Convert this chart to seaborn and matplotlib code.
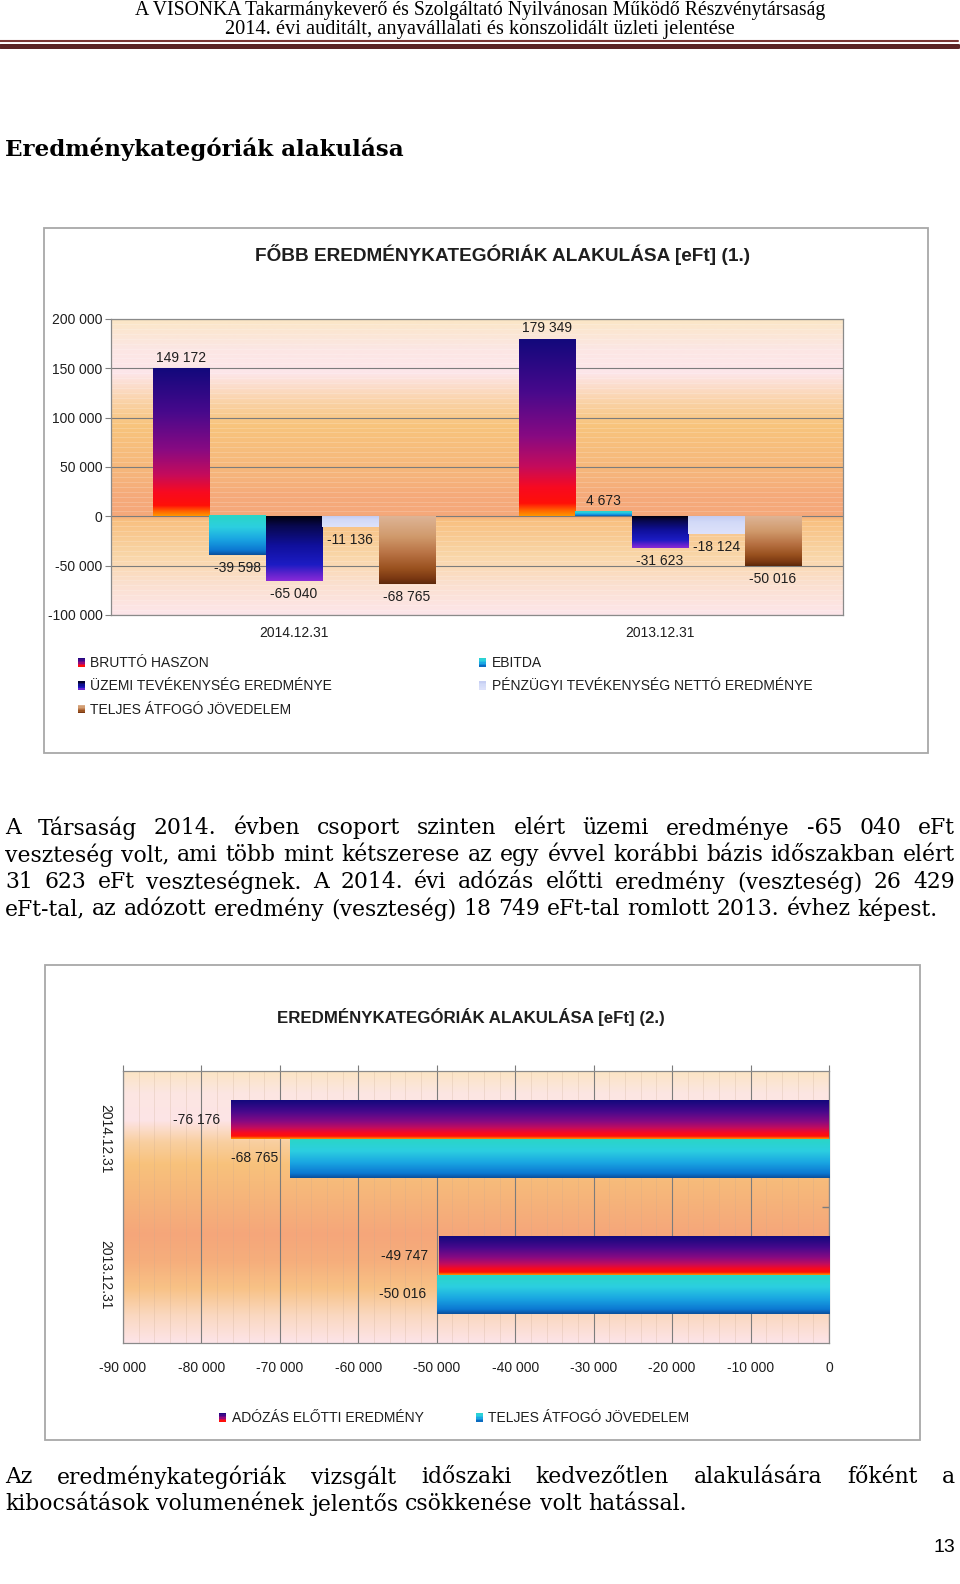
import numpy as np
import pandas as pd
import seaborn as sns
import matplotlib
matplotlib.use('Agg')
import matplotlib.pyplot as plt
from matplotlib.colors import LinearSegmentedColormap
from matplotlib.patches import Rectangle
from matplotlib.lines import Line2D
from matplotlib.legend_handler import HandlerBase
from matplotlib.ticker import MultipleLocator, FuncFormatter

# --- adatok ---
dates = ['2014.12.31', '2013.12.31']
cats1 = ['BRUTTÓ HASZON', 'EBITDA', 'ÜZEMI TEVÉKENYSÉG EREDMÉNYE',
         'PÉNZÜGYI TEVÉKENYSÉG NETTÓ EREDMÉNYE', 'TELJES ÁTFOGÓ JÖVEDELEM']
vals_2014 = [149172, -39598, -65040, -11136, -68765]
vals_2013 = [179349, 4673, -31623, -18124, -50016]

cats2 = ['ADÓZÁS ELŐTTI EREDMÉNY', 'TELJES ÁTFOGÓ JÖVEDELEM']
adozas_elotti = [-76176, -49747]
teljes_atfogo = [-68765, -50016]

yticks1 = [-100000, -50000, 0, 50000, 100000, 150000, 200000]
xticks2 = [-90000, -80000, -70000, -60000, -50000, -40000, -30000, -20000, -10000, 0]

header = ['A VISONKA Takarmánykeverő és Szolgáltató Nyilvánosan Működő Részvénytársaság',
          '2014. évi auditált, anyavállalati és konszolidált üzleti jelentése']
heading = 'Eredménykategóriák alakulása'
title1 = 'FŐBB EREDMÉNYKATEGÓRIÁK ALAKULÁSA [eFt] (1.)'
title2 = 'EREDMÉNYKATEGÓRIÁK ALAKULÁSA [eFt] (2.)'
para1 = ['A Társaság 2014. évben csoport szinten elért üzemi eredménye -65 040 eFt',
         'veszteség volt, ami több mint kétszerese az egy évvel korábbi bázis időszakban elért',
         '31 623 eFt veszteségnek. A 2014. évi adózás előtti eredmény (veszteség) 26 429',
         'eFt-tal, az adózott eredmény (veszteség) 18 749 eFt-tal romlott 2013. évhez képest.']
para2 = ['Az eredménykategóriák vizsgált időszaki kedvezőtlen alakulására főként a',
         'kibocsátások volumenének jelentős csökkenése volt hatással.']
page_no = '13'


def grad(stops):
    return LinearSegmentedColormap.from_list('g', stops)


cm_brutto = grad([(0, '#12087c'), (0.3, '#48098c'), (0.55, '#880a82'), (0.72, '#c40c5c'),
                  (0.84, '#f80a20'), (0.93, '#ff1008'), (0.97, '#ff6400'), (1, '#ff9400')])
cm_ebitda = grad([(0, '#2ad6c6'), (0.3, '#2ccfe0'), (0.6, '#1aa6e2'), (0.88, '#0c78d2'), (1, '#0a4e9a')])
cm_uzemi = grad([(0, '#00000e'), (0.15, '#08084e'), (0.45, '#10109c'), (0.75, '#1c1cc4'),
                 (0.88, '#5a22cc'), (1, '#8a2ad8')])
cm_penz = grad([(0, '#c4ccf2'), (0.35, '#d2daf8'), (1, '#dee2fa')])
cm_teljes = grad([(0, '#deb496'), (0.3, '#d09a6c'), (0.55, '#b87244'), (0.78, '#98501e'),
                  (0.92, '#7a3812'), (1, '#5c280a')])
bg1 = grad([(0, '#fbe6c6'), (0.1, '#fce6e4'), (0.18, '#fde6ea'), (0.28, '#fad2a6'), (0.36, '#f8c47c'),
            (0.5, '#f6b87c'), (0.6, '#f5aa7a'), (0.665, '#f5a87a'), (0.68, '#f8c080'), (0.8, '#f9d6a8'),
            (0.9, '#fbe0d0'), (1, '#fde6ea')])
bg2 = grad([(0, '#fbe4c4'), (0.08, '#fce6e2'), (0.18, '#fde4e6'), (0.26, '#f9cfa0'), (0.34, '#f8c27c'),
            (0.47, '#f6b47a'), (0.6, '#f5a67a'), (0.7, '#f6ae7c'), (0.8, '#f8c286'), (0.9, '#fad8c0'),
            (1, '#fde4e8')])

W, H = 960, 1584
TXT = '#1e1e1e'
SANS = ['Liberation Sans', 'DejaVu Sans']
SERIF = 'DejaVu Serif'

sns.set_theme(style='white')
plt.rcParams['font.family'] = SANS

fig = plt.figure(figsize=(W / 100, H / 100), dpi=100)
fig.patch.set_facecolor('white')
rend = fig.canvas.get_renderer()


def fx(x):
    return x / W


def fy(y):
    return 1 - y / H


def rect(l, t, r, b):
    return [l / W, 1 - b / H, (r - l) / W, (b - t) / H]


def fmt(v):
    v = int(round(v))
    s = f'{abs(v):,}'.replace(',', ' ')
    return '-' + s if v < 0 else s


def paint(ax, cmap, x0, x1, y0, y1, inv=False, z=3):
    img = cmap(np.linspace(0, 1, 256))[:, None, :]
    lo, hi = min(y0, y1), max(y0, y1)
    ext = (min(x0, x1), max(x0, x1), hi, lo) if inv else (min(x0, x1), max(x0, x1), lo, hi)
    ax.imshow(img, extent=ext, origin='upper', aspect='auto', interpolation='bilinear', zorder=z)


def fit(x, y, s, width, **kw):
    t = fig.text(fx(x), fy(y), s, fontsize=10, **kw)
    t.set_fontsize(10 * width / t.get_window_extent(rend).width)
    return t


def width_of(s, fs, **kw):
    t = fig.text(0, 0, s, fontsize=fs, **kw)
    w = t.get_window_extent(rend).width
    t.remove()
    return w


def paragraph(lines, y0, step, x0, x1, fs):
    sp = width_of('a a', fs, family=SERIF) - width_of('aa', fs, family=SERIF)
    for i, line in enumerate(lines):
        words = line.split()
        y = y0 + i * step
        ts = [fig.text(0, fy(y), w, fontsize=fs, family=SERIF, va='center', color='black') for w in words]
        ws = [t.get_window_extent(rend).width for t in ts]
        gap = sp if i == len(lines) - 1 else (x1 - x0 - sum(ws)) / (len(ws) - 1)
        x = x0
        for t, w in zip(ts, ws):
            t.set_x(fx(x))
            x += w + gap


class GradKey:
    def __init__(self, cmap):
        self.cmap = cmap


class GradHandler(HandlerBase):
    def create_artists(self, legend, orig_handle, xdescent, ydescent, width, height, fontsize, trans):
        n = 6
        out = []
        for i in range(n):
            out.append(Rectangle((-xdescent, -ydescent + height * (n - 1 - i) / n), width, height / n,
                                 facecolor=orig_handle.cmap((i + 0.5) / n), edgecolor='none', transform=trans))
        return out


def put_legend(cmaps, labels, x, y):
    fig.legend([GradKey(c) for c in cmaps], labels, handler_map={GradKey: GradHandler()},
               loc='upper left', bbox_to_anchor=(fx(x), fy(y)), frameon=False, borderpad=0,
               borderaxespad=0, handlelength=0.5, handleheight=0.6, handletextpad=0.4,
               labelspacing=0.68, prop={'family': SANS, 'size': 10}, labelcolor=TXT)


# --- fejléc ---
fit(480, 11, header[0], 690, ha='center', va='center', family='Liberation Serif', color='black')
fit(480, 29.5, header[1], 512, ha='center', va='center', family='Liberation Serif', color='black')
fig.add_artist(Line2D([0, fx(958)], [fy(40.5), fy(40.5)], transform=fig.transFigure, color='#7a3634', lw=1.5))
fig.add_artist(Line2D([0, fx(958)], [fy(46), fy(46)], transform=fig.transFigure, color='#5a2424', lw=3.6))
fit(5, 149, heading, 402, ha='left', va='center', family=SERIF, weight='bold', color='black')

# --- 1. diagram ---
fig.add_artist(Rectangle((fx(44), fy(753)), 884 / W, 525 / H, transform=fig.transFigure,
                         fill=False, edgecolor='#a8a8a8', lw=1.3))
fit(503, 255, title1, 493, ha='center', va='center', weight='bold', color=TXT)

df1 = pd.DataFrame({'date': np.repeat(dates, len(cats1)), 'category': cats1 * 2,
                    'value': vals_2014 + vals_2013})
ax1 = fig.add_axes(rect(111, 319, 843, 615))
sns.barplot(data=df1, x='date', y='value', hue='category', order=dates, hue_order=cats1,
            width=0.77, errorbar=None, legend=False, saturation=1, ax=ax1)
ax1.set_xlim(-0.5, 1.5)
ax1.set_ylim(-100000, 200000)
paint(ax1, bg1, -0.5, 1.5, -100000, 200000, z=0)
for cont, cm in zip(ax1.containers, [cm_brutto, cm_ebitda, cm_uzemi, cm_penz, cm_teljes]):
    for bar in cont:
        bar.set_visible(False)
        x0, y0 = bar.get_x(), bar.get_y()
        v = y0 + bar.get_height()
        paint(ax1, cm, x0, x0 + bar.get_width(), y0, v)
        ax1.annotate(fmt(v), (x0 + bar.get_width() / 2, v), xytext=(0, 11 if v > 0 else -13),
                     textcoords='offset pixels', ha='center', va='center', fontsize=10, color=TXT, zorder=5)
ax1.set_yticks(yticks1)
ax1.yaxis.set_major_formatter(FuncFormatter(lambda v, p: fmt(v)))
ax1.yaxis.set_minor_locator(MultipleLocator(5000))
ax1.grid(axis='y', which='major', color='#7c7c7c', lw=0.8)
ax1.grid(axis='y', which='minor', color='white', alpha=0.25, lw=0.5)
ax1.tick_params(axis='y', which='major', left=True, length=4, width=0.8, color='#808080', pad=2,
                labelsize=10, labelcolor=TXT)
ax1.tick_params(axis='y', which='minor', left=False)
ax1.tick_params(axis='x', length=0, pad=8, labelsize=10, labelcolor=TXT)
ax1.set_xlabel('')
ax1.set_ylabel('')
for s in ax1.spines.values():
    s.set_color('#8a8a8a')
    s.set_linewidth(0.9)

put_legend([cm_brutto, cm_uzemi, cm_teljes], [cats1[0], cats1[2], cats1[4]], 78, 656)
put_legend([cm_ebitda, cm_penz], [cats1[1], cats1[3]], 479, 656)

# --- szöveg ---
fs = min(10 * 930 / width_of(para1[-1], 10, family=SERIF),
         10 * 948 / max(width_of(l, 10, family=SERIF) for l in para1[:-1] + para2[:-1]))
paragraph(para1, 828, 27, 5, 955, fs)

# --- 2. diagram ---
fig.add_artist(Rectangle((fx(45), fy(1440)), 875 / W, 475 / H, transform=fig.transFigure,
                         fill=False, edgecolor='#a8a8a8', lw=1.3))
fit(471, 1017, title2, 386, ha='center', va='center', weight='bold', color=TXT)

df2 = pd.DataFrame({'date': dates * 2, 'series': np.repeat(cats2, 2),
                    'value': adozas_elotti + teljes_atfogo})
ax2 = fig.add_axes(rect(123, 1071, 829, 1343))
sns.barplot(data=df2, x='value', y='date', hue='series', order=dates, hue_order=cats2, orient='h',
            width=0.57, errorbar=None, legend=False, saturation=1, ax=ax2)
ax2.set_xlim(-90000, 0)
ax2.set_ylim(1.5, -0.5)
paint(ax2, bg2, -90000, 0, -0.5, 1.5, inv=True, z=0)
for cont, cm in zip(ax2.containers, [cm_brutto, cm_ebitda]):
    for bar in cont:
        bar.set_visible(False)
        x0, y0 = bar.get_x(), bar.get_y()
        v = x0 + bar.get_width()
        paint(ax2, cm, x0, v, y0, y0 + bar.get_height(), inv=True)
        ax2.annotate(fmt(v), (v, y0 + bar.get_height() / 2), xytext=(-11, 0),
                     textcoords='offset pixels', ha='right', va='center', fontsize=10, color=TXT, zorder=5)
ax2.set_xticks(xticks2)
ax2.xaxis.set_major_formatter(FuncFormatter(lambda v, p: fmt(v)))
ax2.xaxis.set_minor_locator(MultipleLocator(2000))
ax2.grid(axis='x', which='major', color='#7c7c7c', lw=0.8)
ax2.grid(axis='x', which='minor', color='#c8a890', alpha=0.35, lw=0.5)
ax2.tick_params(axis='x', which='major', top=True, bottom=False, labeltop=False, labelbottom=True,
                direction='out', length=4.3, width=0.8, color='#7c7c7c', pad=8.6, labelsize=10,
                labelcolor=TXT)
ax2.tick_params(axis='x', which='minor', top=False, bottom=False)
ax2.set_yticks([0.5], minor=True)
ax2.tick_params(axis='y', which='minor', left=False, right=True, direction='in', length=5,
                color='#7c7c7c')
ax2.tick_params(axis='y', which='major', left=False, length=0, pad=8, labelsize=10, labelcolor=TXT,
                labelrotation=270)
for lab in ax2.get_yticklabels():
    lab.set_va('center')
ax2.set_xlabel('')
ax2.set_ylabel('')
for s in ax2.spines.values():
    s.set_color('#8a8a8a')
    s.set_linewidth(0.9)

put_legend([cm_brutto], [cats2[0]], 219, 1411)
put_legend([cm_ebitda], [cats2[1]], 476, 1411)

paragraph(para2, 1477, 27, 5, 955, fs)
fig.text(fx(955), fy(1547), page_no, ha='right', va='center', fontsize=14, color='black')

fig.savefig('out.png', dpi=100, facecolor='white')
